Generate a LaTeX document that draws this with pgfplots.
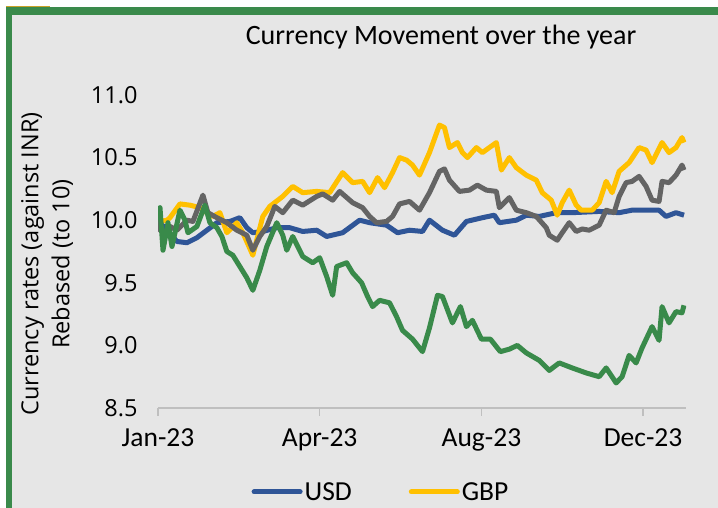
\documentclass[border=0pt]{standalone}
\usepackage{fontspec}
\setmainfont{Carlito}
\newfontfamily\osans{Open Sans}
\usepackage{pgfplots}
\pgfplotsset{compat=1.18}
\definecolor{usd}{HTML}{2F5597}
\definecolor{gbp}{HTML}{FFC000}
\definecolor{eur}{HTML}{646464}
\definecolor{jpy}{HTML}{398A4A}
\definecolor{framegreen}{HTML}{3A8A4B}
\definecolor{bggray}{HTML}{E6E6E6}
\definecolor{axisgray}{HTML}{BFBFBF}
\definecolor{gold}{HTML}{C9A227}

\begin{document}
\begin{tikzpicture}[x=1pt,y=1pt]
  \useasboundingbox (0,0) rectangle (718,508);
  % frame and background
  \fill[white] (0,0) rectangle (718,508);
  \fill[bggray] (12,0) rectangle (718,493);
  \fill[framegreen] (6,493) rectangle (718,501);
  \fill[framegreen] (6,0) rectangle (12,501);
  \fill[gold] (6,500.5) rectangle (50,501.5);
  % title and y label
  \node[anchor=base, font=\fontsize{28}{34}\selectfont] at (441,463) {Currency Movement over the year};
  \node[rotate=90, align=center, font=\osans\fontsize{23.5}{31}\selectfont] at (47,244)
    {Currency rates (against INR)\\Rebased (to 10)};

  \begin{axis}[
    at={(158pt,100pt)}, anchor=south west,
    scale only axis, width=528pt, height=313pt,
    xmin=0, xmax=264.5, ymin=8.5, ymax=11.0,
    axis x line*=bottom, axis y line*=left,
    x axis line style={-, draw=axisgray, line width=1.5pt},
    y axis line style={draw=none},
    tick align=outside, major tick length=8pt,
    xtick={0,81,162,243},
    xticklabels={Jan-23,Apr-23,Aug-23,Dec-23},
    xtick style={draw=axisgray, line width=1.2pt},
    ytick={8.5,9.0,9.5,10.0,10.5,11.0},
    ytick style={draw=none},
    /pgf/number format/fixed, /pgf/number format/fixed zerofill,
    /pgf/number format/precision=1,
    /pgf/number format/assume math mode=true,
    xticklabel style={font=\fontsize{27.5}{30}\selectfont, yshift=-9pt},
    yticklabel style={font=\osans\fontsize{23.5}{28}\selectfont, xshift=-9pt},
    legend style={at={(0.4223,-0.268)}, anchor=center, draw=none, fill=none,
      font=\fontsize{27.5}{30}\selectfont, legend columns=2,
      /tikz/every even column/.append style={column sep=55pt}},
    legend image code/.code={\draw[#1, line width=5pt, line cap=round] (0pt,0pt) -- (46pt,0pt);},
    every axis plot/.append style={line width=5pt, line join=round},
  ]
    % USD
    \addplot[color=usd] coordinates {
      (0,10.00)(1,9.98)(4.5,9.92)(9.5,9.83)(14.5,9.82)(19.5,9.86)(24.5,9.92)(29.5,9.98)
      (36,9.99)(41,10.02)(44.5,9.94)(47.5,9.90)(52.5,9.91)(59.5,9.94)(66,9.94)(72.5,9.91)
      (79.5,9.92)(84.5,9.87)(92.5,9.90)(101,10.00)(106,9.98)(114.5,9.96)(120,9.90)(126,9.92)
      (132.5,9.91)(136,10.00)(142.5,9.92)(148.5,9.88)(154.5,9.99)(162.5,10.02)(168.5,10.04)
      (171,9.98)(179.5,10.00)(184.5,10.04)(191,10.03)(199.5,10.06)(207.5,10.06)(221,10.07)
      (231,10.06)(237.5,10.08)(251,10.08)(254.5,10.03)(259.5,10.06)(263.5,10.04)};
    \addlegendentry{USD}
    % GBP
    \addplot[color=gbp] coordinates {
      (0,10.00)(1,9.99)(4.5,10.00)(6,10.02)(11,10.13)(16,10.12)(21,10.10)(23.5,10.07)
      (27.5,10.03)(31,10.06)(34.5,9.90)(39.5,9.98)(42.5,9.90)(47.5,9.72)(52.5,10.03)
      (56,10.11)(62.5,10.19)(67.5,10.27)(72.5,10.22)(79.5,10.23)(86,10.22)(92.5,10.38)
      (97.5,10.30)(102.5,10.31)(106,10.22)(110,10.34)(113.5,10.26)(117.5,10.38)(121,10.50)
      (124.5,10.48)(127.5,10.44)(131,10.36)(136,10.54)(141,10.76)(143.5,10.74)(146,10.58)
      (150,10.62)(152.5,10.54)(155,10.50)(159.5,10.58)(162.5,10.54)(169.5,10.62)(172,10.40)
      (176,10.50)(179.5,10.42)(184.5,10.36)(189.5,10.32)(192.5,10.22)(197,10.16)(200,10.04)
      (202.5,10.14)(206,10.24)(209.5,10.12)(212,10.08)(217.5,10.08)(221,10.14)(224.5,10.31)
      (227.5,10.22)(231,10.39)(236,10.46)(241,10.58)(244.5,10.56)(247.5,10.46)(252.5,10.62)
      (256,10.54)(259.5,10.58)(262.5,10.66)(263.5,10.62)};
    \addlegendentry{GBP}
    % EUR
    \addplot[color=eur, forget plot] coordinates {
      (0,10.00)(1,9.92)(4.5,9.90)(6,9.95)(9.5,9.92)(14.5,10.00)(17.5,9.99)(22.5,10.20)
      (25,10.06)(29.5,10.02)(34.5,9.98)(39.5,9.92)(44.5,9.88)(47.5,9.76)(51,9.87)(54.5,9.95)
      (58.5,10.11)(62.5,10.06)(67.5,10.16)(72.5,10.12)(79.5,10.19)(82.5,10.21)(87.5,10.16)
      (91,10.23)(97.5,10.14)(102.5,10.10)(106,10.03)(109.5,9.98)(114.5,9.99)(117.5,10.03)
      (121,10.13)(126,10.15)(131,10.08)(136,10.22)(141,10.39)(143.5,10.41)(146,10.32)
      (151,10.23)(156,10.24)(160,10.28)(164.5,10.24)(169.5,10.23)(171,10.10)(176,10.18)
      (179.5,10.08)(184.5,10.06)(189.5,10.03)(194.5,9.94)(196,9.88)(200,9.84)(202.5,9.90)
      (206,9.98)(209.5,9.91)(212.5,9.93)(216,9.92)(221,9.96)(224.5,10.08)(228.5,10.06)
      (231,10.19)(234.5,10.30)(237.5,10.31)(241,10.35)(244.5,10.27)(247.5,10.16)(251,10.15)
      (252.5,10.31)(256,10.30)(259.5,10.36)(262.5,10.44)(263.5,10.40)};
    % JPY
    \addplot[color=jpy, forget plot] coordinates {
      (0,10.00)(1,10.10)(2.5,9.76)(5,9.98)(7,9.79)(11,10.08)(13.5,10.00)(15,9.90)(19.5,9.95)
      (23.5,10.12)(26,9.98)(29.5,9.94)(32,9.87)(34.5,9.75)(37.5,9.72)(41,9.63)(44.5,9.54)
      (47.5,9.44)(51,9.60)(54.5,9.79)(59.5,9.98)(62.5,9.88)(64.5,9.76)(67.5,9.87)(72.5,9.71)
      (77.5,9.66)(81,9.70)(84.5,9.55)(87.5,9.40)(89.5,9.63)(94.5,9.66)(97.5,9.58)(102,9.50)
      (105,9.39)(107.5,9.31)(111,9.36)(116,9.34)(119.5,9.23)(122.5,9.12)(127.5,9.05)
      (132.5,8.95)(136,9.14)(140,9.40)(142.5,9.39)(147.5,9.18)(151.5,9.31)(154.5,9.15)
      (157.5,9.20)(162,9.05)(166.5,9.05)(171.5,8.95)(176,8.97)(180,9.00)(184.5,8.94)
      (191,8.88)(196,8.80)(201,8.86)(207.5,8.82)(214.5,8.78)(221,8.75)(224.5,8.82)
      (229.5,8.70)(232.5,8.75)(236,8.92)(239.5,8.86)(242.5,8.98)(247.5,9.15)(251,9.04)
      (252.5,9.31)(256,9.18)(259.5,9.27)(262.5,9.26)(263.5,9.32)};
  \end{axis}
\end{tikzpicture}
\end{document}
